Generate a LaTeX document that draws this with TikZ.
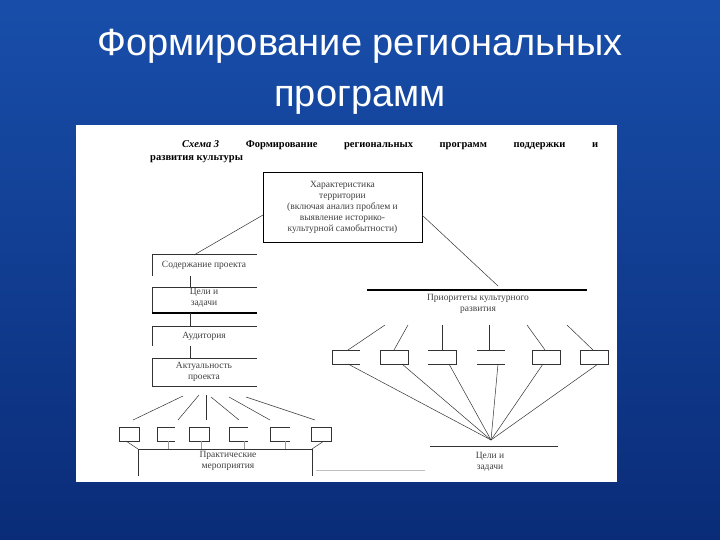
\documentclass[tikz,border=0pt]{standalone}
\usepackage{fontspec}
\setmainfont{Liberation Serif}
\newfontfamily\titlefont{Liberation Sans}
\begin{document}
\begin{tikzpicture}[x=1pt,y=-1pt,
  ln/.style={draw=black!80,line width=0.5pt},
  thk/.style={draw=black,line width=1.3pt},
  lbl/.style={font=\fontsize{9.5}{11}\selectfont,text=black!75,align=center,inner sep=0pt}]
\useasboundingbox (0,0) rectangle (720,540);
\shade[top color={rgb,255:red,24;green,78;blue,170},bottom color={rgb,255:red,10;green,44;blue,120}] (0,0) rectangle (720,540);
\node[text=white,font=\titlefont\fontsize{38}{51}\selectfont,align=center] (title) at (360,72) {Формирование региональных\\программ};
\fill[white] (76,125) rectangle (617,482);
% caption
\node[anchor=west,inner sep=0pt,font=\bfseries\fontsize{10.5}{12}\selectfont] (cap1) at (182,145) {\makebox[416pt][s]{\textit{Схема\ 3}\hfill Формирование\hfill региональных\hfill программ\hfill поддержки\hfill и}};
\node[anchor=west,inner sep=0pt,font=\bfseries\fontsize{10.5}{12}\selectfont] (cap2) at (150,159) {развития культуры};
% top box
\node[draw,line width=0.7pt,minimum width=159,minimum height=70,lbl] (top) at (342.5,207) {Характеристика\\территории\\(включая анализ проблем и\\выявление историко-\\культурной самобытности)};
\coordinate (tl) at (263,215); \coordinate (tr) at (422,215);
\coordinate (lend) at (194,255); \coordinate (rend) at (498,286);
\draw[ln] (tl) -- (lend);
\draw[ln] (tr) -- (rend);
% left column
\draw[ln] (257,254) -- (152,254) -- (152,276);
\node[lbl] (sod) at (204,265) {Содержание проекта};
\draw[ln] (190,276) -- (190,287);
\draw[ln] (257,287) -- (152,287) -- (152,313);
\draw[thk] (152,313) -- (257,313);
\node[lbl] (cel) at (204,298) {Цели и\\задачи};
\draw[ln] (190,313) -- (190,326);
\draw[ln] (257,326) -- (152,326) -- (152,346);
\node[lbl] (aud) at (204,336) {Аудитория};
\draw[ln] (190,346) -- (190,358);
\draw[ln] (257,358) -- (152,358) -- (152,386) -- (257,386);
\node[lbl] (akt) at (204,372) {Актуальность\\проекта};
% bottom-left fan
\foreach \a/\b/\c/\d in {183/396/133/420, 199/395/178/420, 206/395/206/420, 211/397/239/420, 229/397/270/420, 246/397/315/420}
  \draw[ln] (\a,\b) -- (\c,\d);
\draw[ln] (119,427) rectangle (139,441);
\draw[ln] (175,427) -- (157,427) -- (157,441) -- (175,441);
\draw[ln] (189,427) rectangle (209,441);
\draw[ln] (248,427) -- (229,427) -- (229,441) -- (248,441);
\draw[ln] (290,427) -- (270,427) -- (270,441) -- (290,441);
\draw[ln] (311,427) rectangle (331,441);
\draw[ln] (126,441) -- (138,449);
\draw[ln] (324,441) -- (312,449);
\foreach \x in {168,201,244,285} \draw[ln,draw=black!40] (\x,441) -- (\x,449);
\draw[ln] (138,449) -- (312,449);
\draw[ln] (138,449) -- (138,476);
\draw[ln] (312,449) -- (312,476);
\node[lbl] (prakt) at (228,461) {Практические\\мероприятия};
\draw[draw=black!25,line width=0.5pt] (316,470) -- (425,470);
% right side
\draw[thk] (367,290) -- (587,290);
\node[lbl] (prio) at (478,304) {Приоритеты культурного\\развития};
\coordinate (goal) at (491,440);
\draw[ln] (360,350) -- (332,350) -- (332,364) -- (360,364);
\draw[ln] (380,350) rectangle (408,364);
\draw[ln] (428,350) -- (456,350) -- (456,364) -- (428,364);
\draw[ln] (477,350) -- (505,350); \draw[ln] (477,364) -- (505,364);
\draw[ln] (532,350) rectangle (560,364);
\draw[ln] (580,350) rectangle (608,364);
\foreach \a/\b in {348/385, 394/408, 442/442, 489/489, 545/527, 593/567}
  \draw[ln] (\a,350) -- (\b,325);
\foreach \a in {348,402,449,498,543,598}
  \draw[ln] (\a,364) -- (goal);
\draw[ln] (430,446) -- (558,446);
\node[lbl] (celz) at (490,462) {Цели и\\задачи};
\end{tikzpicture}
\end{document}
